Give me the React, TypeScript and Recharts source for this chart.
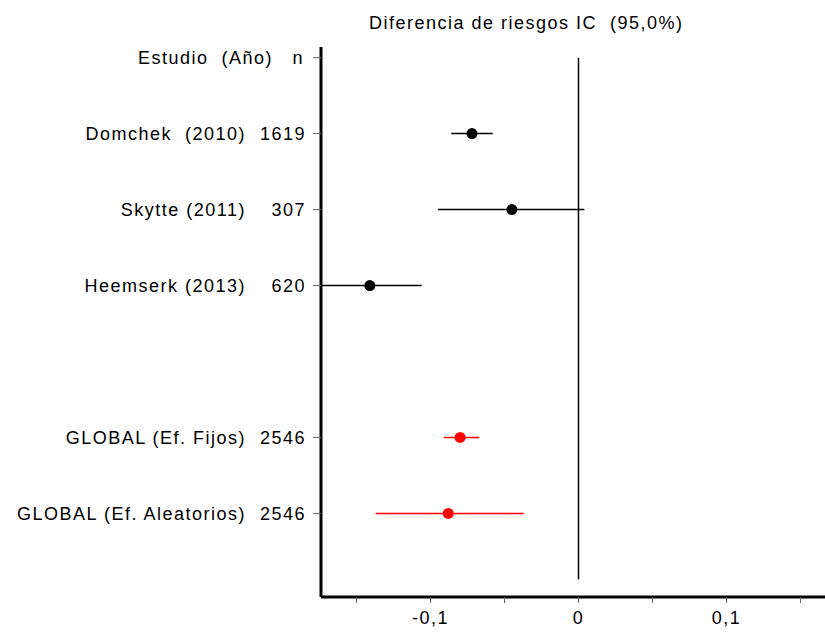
import React from "react";
import {
  ComposedChart,
  Scatter,
  ErrorBar,
  XAxis,
  YAxis,
  ReferenceLine,
} from "recharts";

// filas del forest plot (0 = cabecera, 4 = vacía)
const rowNames = [
  "Estudio  (Año)",
  "Domchek  (2010)",
  "Skytte (2011)",
  "Heemserk (2013)",
  "",
  "GLOBAL (Ef. Fijos)",
  "GLOBAL (Ef. Aleatorios)",
];
const rowN = ["n", "1619", "307", "620", "", "2546", "2546"];
const labelRows = [0, 1, 2, 3, 5, 6];

const studyRows = [1, 2, 3];
const studyRd = [-0.072, -0.045, -0.141];
const studyLow = [-0.086, -0.095, -0.174];
const studyHigh = [-0.058, 0.004, -0.106];

const globalRows = [5, 6];
const globalRd = [-0.08, -0.088];
const globalLow = [-0.091, -0.137];
const globalHigh = [-0.067, -0.037];

const xTicks = [-0.15, -0.1, -0.05, 0, 0.05, 0.1, 0.15];
const xLabels: Record<string, string> = { "-0.1": "-0,1", "0": "0", "0.1": "0,1" };

const toPoints = (rows: number[], rd: number[], lo: number[], hi: number[]) =>
  rows.map((r, i) => ({
    row: r,
    rd: rd[i],
    ci: [rd[i] - lo[i], hi[i] - rd[i]],
  }));

const studies = toPoints(studyRows, studyRd, studyLow, studyHigh);
const globals = toPoints(globalRows, globalRd, globalLow, globalHigh);

const font = "'Liberation Sans', Arial, sans-serif";
const textStyle = { whiteSpace: "pre" as const, letterSpacing: "1.5px" };

const Dot = (color: string) => (props: any) => (
  <circle cx={props.cx} cy={props.cy} r={5.5} fill={color} />
);

const RowTick = (props: any) => {
  const { x, y, payload } = props;
  const i = payload.value;
  const common = {
    y,
    dy: "0.35em",
    textAnchor: "end" as const,
    fill: "#000",
    fontSize: 18,
    fontFamily: font,
    style: textStyle,
  };
  if (i === 0) {
    return (
      <text {...common} x={x - 2}>
        {rowNames[i] + "   " + rowN[i]}
      </text>
    );
  }
  return (
    <g>
      <text {...common} x={x - 60}>
        {rowNames[i]}
      </text>
      <text {...common} x={x}>
        {rowN[i]}
      </text>
    </g>
  );
};

export default function App() {
  return (
    <div
      style={{
        position: "absolute",
        left: 0,
        top: 0,
        width: 825,
        height: 633,
        overflow: "hidden",
        background: "#fff",
        fontFamily: font,
      }}
    >
      <div
        style={{
          position: "absolute",
          left: 369,
          top: 13,
          fontSize: 18,
          lineHeight: "20px",
          color: "#000",
          ...textStyle,
        }}
      >
        Diferencia de riesgos IC  (95,0%)
      </div>
      <ComposedChart
        width={840}
        height={633}
        margin={{ top: 47, right: 4, bottom: 0, left: 0 }}
      >
        <XAxis
          xAxisId="top"
          orientation="top"
          type="number"
          dataKey="rd"
          domain={[-0.174, 0.174]}
          height={0}
          tick={false}
          tickLine={false}
          axisLine={{ stroke: "#000", strokeWidth: 2 }}
          allowDataOverflow
        />
        <XAxis
          type="number"
          dataKey="rd"
          domain={[-0.174, 0.174]}
          ticks={xTicks}
          height={36}
          tickFormatter={(v: number) => xLabels[String(Math.round(v * 100) / 100)] ?? ""}
          tick={{ fill: "#000", fontSize: 18, fontFamily: font, style: textStyle }}
          tickSize={6}
          tickMargin={8}
          tickLine={{ stroke: "#666" }}
          axisLine={{ stroke: "#000", strokeWidth: 3 }}
          allowDataOverflow
        />
        <YAxis
          type="number"
          dataKey="row"
          reversed
          domain={[-0.14, 7.1]}
          ticks={labelRows}
          width={321}
          tickSize={8}
          tickMargin={7}
          tickLine={{ stroke: "#666" }}
          tick={<RowTick />}
          axisLine={{ stroke: "#000", strokeWidth: 3 }}
          allowDataOverflow
        />
        <ReferenceLine
          segment={[
            { x: 0, y: 0 },
            { x: 0, y: 6.87 },
          ]}
          stroke="#000"
          strokeWidth={1.5}
          ifOverflow="visible"
        />
        <Scatter data={studies} dataKey="rd" shape={Dot("#000")} isAnimationActive={false}>
          <ErrorBar dataKey="ci" direction="x" width={0} stroke="#000" strokeWidth={1.5} />
        </Scatter>
        <Scatter data={globals} dataKey="rd" shape={Dot("#ff0000")} isAnimationActive={false}>
          <ErrorBar dataKey="ci" direction="x" width={0} stroke="#ff0000" strokeWidth={1.5} />
        </Scatter>
      </ComposedChart>
    </div>
  );
}
